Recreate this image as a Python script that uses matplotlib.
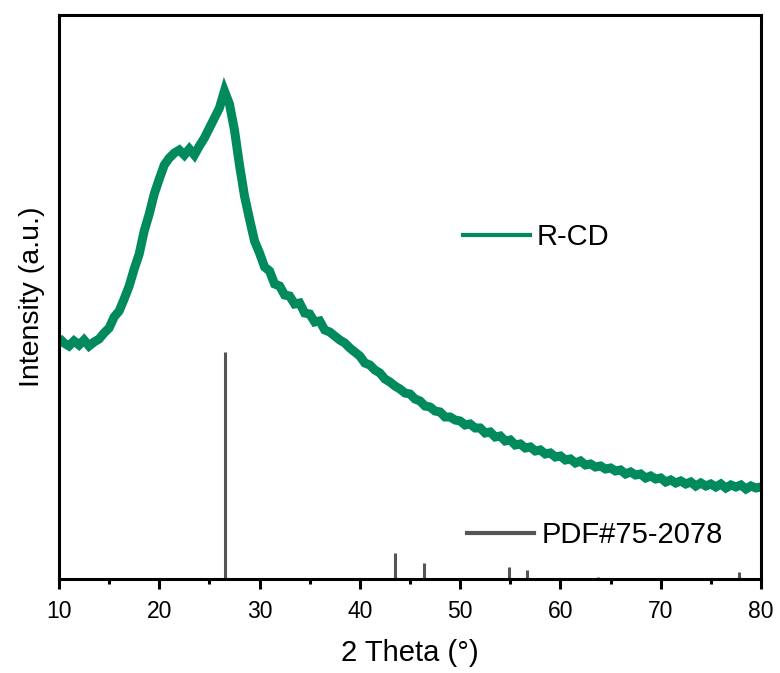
import matplotlib
matplotlib.use("Agg")
import matplotlib.pyplot as plt
from matplotlib.lines import Line2D
import numpy as np

plt.rcParams['font.family'] = ['Liberation Sans', 'DejaVu Sans']

# R-CD pattern, every 0.5 degree (arbitrary units)
two_theta = np.arange(10, 80.01, 0.5)
intensity = [
    241, 236, 233, 238, 234, 239, 233, 237, 240, 246,
    251, 262, 268, 280, 293, 310, 325, 348, 365, 385,
    400, 414, 421, 426, 429, 424, 430, 424, 433, 441,
    451, 461, 471, 488, 475, 449, 414, 383, 360, 338,
    326, 312, 308, 295, 293, 284, 283, 275, 276, 266,
    265, 257, 258, 249, 247, 243, 239, 236, 231, 227,
    223, 216, 214, 209, 206, 200, 197, 193, 190, 186,
    185, 180, 178, 173, 172, 168, 167, 162, 162, 159,
    158, 154, 155, 151, 151, 146, 147, 142, 143, 138,
    139, 134, 135, 131, 132, 128, 129, 125, 126, 122,
    123, 119, 120, 116, 118, 114, 115, 112, 113, 110,
    111, 108, 109, 105, 107, 104, 105, 101, 103, 100,
    101, 97, 99, 96, 98, 95, 97, 93, 96, 93,
    95, 92, 95, 91, 94, 92, 94, 90, 93, 91,
    92,
]

# PDF#75-2078 reference lines
pdf_pos = [26.6, 43.5, 46.4, 54.9, 56.7, 63.7, 77.8]
pdf_int = [227, 26, 16, 12, 9, 2, 7]

green = '#008a5e'
grey = '#555555'

fig = plt.figure(figsize=(7.8, 6.73), dpi=100)
ax = fig.add_axes([0.0756, 0.1397, 0.9, 0.838])

ax.plot(two_theta, intensity, color=green, lw=6.5,
        solid_joinstyle='miter', solid_capstyle='butt')
ax.vlines(pdf_pos, 0, pdf_int, color=grey, lw=2.2)

ax.set_xlim(10, 80)
ax.set_ylim(0, 564)
ax.set_xticks(range(10, 81, 10))
ax.set_xticks(range(15, 80, 10), minor=True)
ax.set_yticks([])
ax.tick_params(axis='x', which='major', direction='out', length=7, width=2.2,
               labelsize=16.5, pad=8)
ax.tick_params(axis='x', which='minor', direction='out', length=3.5, width=2.2)
for s in ax.spines.values():
    s.set_linewidth(2.2)

ax.set_xlabel('2 Theta (°)', fontsize=21, labelpad=12)
ax.set_ylabel('Intensity (a.u.)', fontsize=20.5, labelpad=10)

leg1 = ax.legend(handles=[Line2D([], [], color=green, lw=3)], labels=['R-CD'],
                 loc='center left', bbox_to_anchor=(0.575, 0.606), frameon=False,
                 fontsize=21, handlelength=2.3, handletextpad=0.25,
                 borderpad=0, borderaxespad=0)
ax.add_artist(leg1)
ax.legend(handles=[Line2D([], [], color=grey, lw=3)], labels=['PDF#75-2078'],
          loc='center left', bbox_to_anchor=(0.581, 0.078), frameon=False,
          fontsize=21, handlelength=2.3, handletextpad=0.25,
          borderpad=0, borderaxespad=0)

fig.savefig('out.png', dpi=100)
